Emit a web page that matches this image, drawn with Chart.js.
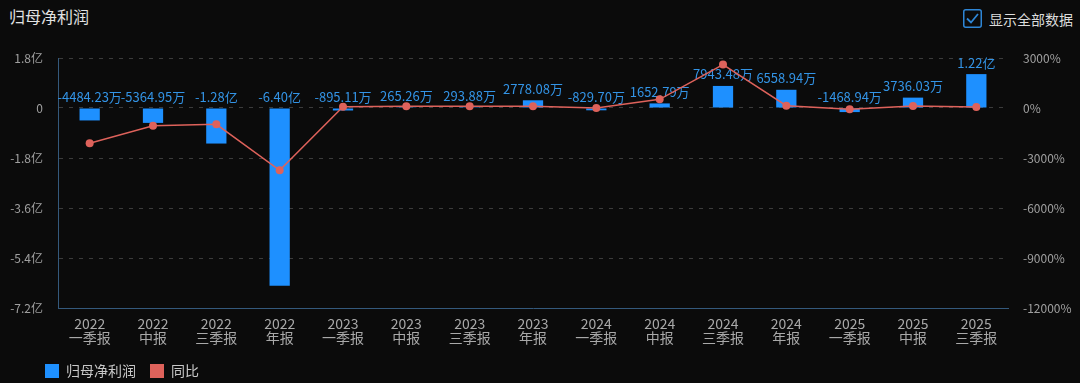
<!DOCTYPE html>
<html>
<head>
<meta charset="utf-8">
<script src="https://cdn.jsdelivr.net/npm/chart.js@4.4.1/dist/chart.umd.min.js"></script>
<style>
  body { margin: 0; background: #0b0b0b; }
  #wrap { position: relative; width: 1080px; height: 383px; overflow: hidden; font-family: "Noto Sans CJK SC", sans-serif; }
  #title { position: absolute; left: 9px; top: 4px; font-size: 16px; color: #e2e2e2; }
  #toggle { position: absolute; left: 963px; top: 9px; font-size: 14px; line-height: 18px; color: #dcdcdc; display: flex; align-items: center; }
  #toggle svg { margin-right: 7px; }
  canvas { position: absolute; left: 0; top: 0; }
</style>
</head>
<body>
<div id="wrap">
  <div id="title">归母净利润</div>
  <div id="toggle">
    <svg width="19" height="19" viewBox="0 0 19 19">
      <rect x="0.75" y="0.75" width="17.5" height="17.5" rx="2" fill="none" stroke="#2e86d6" stroke-width="1.5"/>
      <polyline points="4,9.5 8,13.5 15,5" fill="none" stroke="#2e86d6" stroke-width="1.8"/>
    </svg>显示全部数据
  </div>
  <canvas id="chart" width="1080" height="383"></canvas>
</div>
<script>
// 报告期
const years = ['2022', '2022', '2022', '2022', '2023', '2023', '2023', '2023',
               '2024', '2024', '2024', '2024', '2025', '2025', '2025'];
const reports = ['一季报', '中报', '三季报', '年报', '一季报', '中报', '三季报', '年报',
                 '一季报', '中报', '三季报', '年报', '一季报', '中报', '三季报'];

// 归母净利润 (万元)
const netProfit = [-4484.23, -5364.95, -12800, -64000, -895.11, 265.26, 293.88, 2778.08,
                   -829.70, 1652.79, 7943.48, 6558.94, -1468.94, 3736.03, 12200];

// 同比 (%)
const yoy = [-2120, -1060, -980, -3740, 80, 105, 102, 104,
             7, 523, 2603, 136, -77, 126, 54];

// 轴刻度
const leftTicks = [-72000, -54000, -36000, -18000, 0, 18000];
const rightTicks = [-12000, -9000, -6000, -3000, 0, 3000];

const blue = '#1e90ff';
const red = '#de625b';

function fmtWan(v) {
    if (Math.abs(v) >= 10000) return (v / 10000).toFixed(2) + '亿';
    return v.toFixed(2) + '万';
}

Chart.defaults.font.family = '"Noto Sans CJK SC", sans-serif';

// value labels above each bar, drawn before the line so the line sits on top
const barLabels = {
    id: 'barLabels',
    afterDatasetDraw(chart, args) {
        if (args.index !== 0) return;
        const ctx = chart.ctx;
        ctx.save();
        ctx.font = '13px "Noto Sans CJK SC"';
        ctx.fillStyle = '#3394e6';
        ctx.textAlign = 'center';
        ctx.textBaseline = 'bottom';
        args.meta.data.forEach((bar, i) => {
            const top = Math.min(bar.y, bar.base);
            ctx.fillText(fmtWan(netProfit[i]), bar.x, top - 5);
        });
        ctx.restore();
    }
};

// move the legend under the axis labels, in line with the left edge
const legendNudge = {
    id: 'legendNudge',
    afterLayout(chart) {
        const lg = chart.legend;
        lg.left += 31;
        lg.right += 31;
        lg.top += 5;
        lg.bottom += 5;
    }
};

new Chart(document.getElementById('chart'), {
    type: 'bar',
    data: {
        labels: years.map((y, i) => [y, reports[i]]),
        datasets: [{
            label: '归母净利润',
            data: netProfit,
            backgroundColor: blue,
            borderWidth: 0,
            barPercentage: 0.32,
            categoryPercentage: 1,
            yAxisID: 'y',
            order: 1
        }, {
            type: 'line',
            label: '同比',
            data: yoy,
            borderColor: red,
            backgroundColor: red,
            borderWidth: 1.5,
            pointRadius: 4,
            pointBackgroundColor: red,
            pointBorderWidth: 0,
            tension: 0,
            yAxisID: 'y1',
            order: 0
        }]
    },
    options: {
        responsive: false,
        animation: false,
        devicePixelRatio: 1,
        layout: { padding: { top: 58, left: 0, right: 0, bottom: 0 } },
        plugins: {
            legend: {
                position: 'bottom',
                align: 'start',
                labels: {
                    boxWidth: 14,
                    boxHeight: 14,
                    padding: 14,
                    color: '#c8c8c8',
                    font: { size: 14 },
                    useBorderRadius: true,
                    borderRadius: 2,
                    generateLabels(chart) {
                        return chart.data.datasets.map((ds, i) => ({
                            text: ds.label,
                            fillStyle: ds.backgroundColor,
                            strokeStyle: ds.backgroundColor,
                            lineWidth: 0,
                            fontColor: '#c8c8c8',
                            datasetIndex: i,
                            hidden: false
                        }));
                    }
                }
            },
            tooltip: { enabled: false }
        },
        scales: {
            x: {
                grid: { display: false, drawTicks: false },
                border: { display: true, color: '#34597c', width: 1 },
                ticks: {
                    color: '#a9a9a9',
                    font: { size: 14, lineHeight: 1.0 },
                    padding: 9,
                    maxRotation: 0,
                    autoSkip: false
                },
                afterFit(s) { s.height = 37; }
            },
            y: {
                position: 'left',
                min: leftTicks[0],
                max: leftTicks[leftTicks.length - 1],
                afterBuildTicks(s) { s.ticks = leftTicks.map(v => ({ value: v })); },
                grid: { color: '#3c3c3c', drawTicks: false },
                border: { display: true, color: '#34597c', dash: [4, 6] },
                ticks: {
                    color: '#a0a0a0',
                    font: { size: 12 },
                    padding: 15,
                    callback: v => v === 0 ? '0' : (v / 10000).toFixed(1) + '亿'
                },
                afterFit(s) { s.width = 58; }
            },
            y1: {
                position: 'right',
                min: rightTicks[0],
                max: rightTicks[rightTicks.length - 1],
                afterBuildTicks(s) { s.ticks = rightTicks.map(v => ({ value: v })); },
                grid: { display: false, drawTicks: false },
                border: { display: false },
                ticks: {
                    color: '#a0a0a0',
                    font: { size: 12 },
                    padding: 15,
                    callback: v => v + '%'
                },
                afterFit(s) { s.width = 72; }
            }
        }
    },
    plugins: [barLabels, legendNudge]
});
</script>
</body>
</html>
